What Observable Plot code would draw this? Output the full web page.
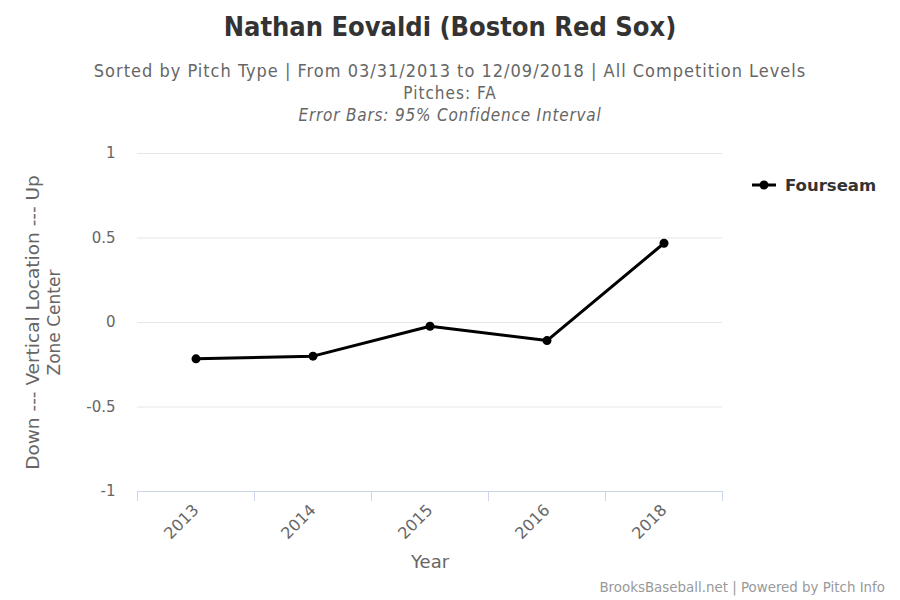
<!DOCTYPE html>
<html><head><meta charset="utf-8">
<script src="https://cdn.jsdelivr.net/npm/d3@7"></script>
<script src="https://cdn.jsdelivr.net/npm/@observablehq/plot@0.6"></script>
<style>
body{margin:0;background:#fff;font-family:"DejaVu Sans",sans-serif;}
#wrap{position:relative;width:900px;height:600px;overflow:hidden;background:#fff;}
#head{position:relative;height:130px;}
.t{position:absolute;left:0;width:900px;text-align:center;white-space:nowrap;line-height:1;}
#title{top:13px;font-family:"DejaVu Sans Condensed","DejaVu Sans",sans-serif;font-weight:bold;font-size:27px;color:#333;}
.sub{font-family:"DejaVu Sans Condensed","DejaVu Sans",sans-serif;font-size:17px;color:#666;}
#legend{position:absolute;left:752px;top:175px;height:20px;display:flex;align-items:center;}
#legend span{font-weight:bold;font-size:16.5px;color:#333;margin-left:8px;}
#credit{position:absolute;right:15px;top:580px;font-size:13.4px;color:#999;white-space:nowrap;}
</style></head><body>
<div id="wrap">
  <div id="head">
    <div class="t" id="title">Nathan Eovaldi (Boston Red Sox)</div>
    <div class="t sub" style="top:62px;font-size:18px;letter-spacing:1px">Sorted by Pitch Type | From 03/31/2013 to 12/09/2018 | All Competition Levels</div>
    <div class="t sub" style="top:85px;letter-spacing:1px">Pitches: FA</div>
    <div class="t sub" style="top:107px;font-style:italic;letter-spacing:0.8px">Error Bars: 95% Confidence Interval</div>
  </div>
  <div id="chart"></div>
  <div id="legend"><svg width="25" height="20"><line x1="0" x2="24" y1="10" y2="10" stroke="#000" stroke-width="3"/><circle cx="12" cy="10" r="4.5" fill="#000"/></svg><span>Fourseam</span></div>
  <div id="credit">BrooksBaseball.net | Powered by Pitch Info</div>
</div>
<script>
const years = ["2013", "2014", "2015", "2016", "2018"];
const fourseam = [-0.215, -0.199, -0.022, -0.107, 0.469];
const yTicks = [-1, -0.5, 0, 0.5, 1];
const yTitle = "Down --- Vertical Location --- Up";
const yTitle2 = "Zone Center";
const xTitle = "Year";

const idx = years.map((_, i) => i);
const bounds = d3.range(-0.5, years.length, 1);

const chart = Plot.plot({
  width: 900,
  height: 470,
  marginTop: 23,
  marginBottom: 109,
  marginLeft: 137,
  marginRight: 178,
  style: {fontFamily: "'DejaVu Sans', sans-serif", background: "#fff", overflow: "visible"},
  x: {type: "linear", domain: [-0.5, years.length - 0.5]},
  y: {domain: [-1, 1]},
  marks: [
    Plot.gridY(yTicks.filter(d => d !== -1), {stroke: "#e6e6e6", strokeOpacity: 1}),
    Plot.ruleY([-1], {stroke: "#ccd6eb"}),
    Plot.axisX(bounds, {tickSize: 10, tickFormat: () => "", stroke: "#ccd6eb", strokeOpacity: 1, label: null}),
    Plot.axisX(idx, {tickSize: 0, tickPadding: 16, tickRotate: -45, tickFormat: i => years[i], fontSize: 16, fill: "#666", label: null}),
    Plot.axisY(yTicks, {tickSize: 0, tickPadding: 22, tickFormat: d => String(d), fontSize: 15, fill: "#666", label: null}),
    Plot.line(fourseam, {x: (d, i) => i, y: d => d, stroke: "#000", strokeWidth: 3}),
    Plot.dot(fourseam, {x: (d, i) => i, y: d => d, r: 4.5, fill: "#000"}),
    Plot.text([yTitle], {text: d => d, frameAnchor: "left", rotate: -90, dx: -104, textAnchor: "middle", fontSize: 18.5, fill: "#666", style: "letter-spacing:1px"}),
    Plot.text([yTitle2], {text: d => d, frameAnchor: "left", rotate: -90, dx: -83, textAnchor: "middle", fontSize: 17, fill: "#666"}),
    Plot.text([xTitle], {text: d => d, frameAnchor: "bottom", dy: 76, textAnchor: "middle", fontSize: 18, fill: "#666"})
  ]
});
document.getElementById("chart").appendChild(chart);
</script>
</body></html>
